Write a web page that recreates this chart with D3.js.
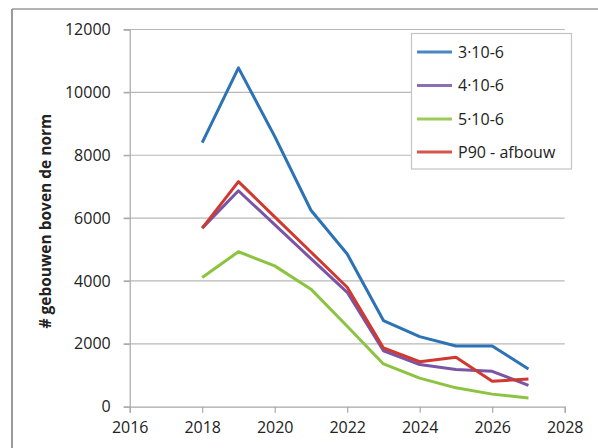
<!DOCTYPE html>
<html>
<head>
<meta charset="utf-8">
<script src="https://cdn.jsdelivr.net/npm/d3@7"></script>
<style>
  html, body { margin: 0; padding: 0; background: #fff; }
  svg { display: block; }
  text { font-family: "Open Sans", "Liberation Sans", sans-serif; fill: #222; }
</style>
</head>
<body>
<svg id="chart" width="598" height="448"></svg>
<script>
// ---- data ----
const years = [2018, 2019, 2020, 2021, 2022, 2023, 2024, 2025, 2026, 2027];
const seriesNames = ["3·10-6", "4·10-6", "5·10-6", "P90 - afbouw"];
const values3 = [8400, 10780, 8600, 6250, 4860, 2740, 2230, 1930, 1930, 1200];
const values4 = [5680, 6870, 5790, 4710, 3640, 1780, 1340, 1180, 1125, 680];
const values5 = [4110, 4930, 4480, 3740, 2560, 1360, 910, 600, 400, 275];
const valuesP90 = [5680, 7160, 6040, 4920, 3800, 1870, 1430, 1570, 810, 880];
const colors = ["#2b72b6", "#7a55a6", "#8cc33f", "#d0392f"];
const xTicks = [2016, 2018, 2020, 2022, 2024, 2026, 2028];
const yTicks = [0, 2000, 4000, 6000, 8000, 10000, 12000];
const yTitle = "# gebouwen boven de norm";

const allSeries = [values3, values4, values5, valuesP90].map((v, i) => ({
  name: seriesNames[i], color: colors[i],
  points: years.map((y, j) => ({ x: y, y: v[j] }))
}));

const svg = d3.select("#chart");

// outer frame
svg.append("line").attr("x1", 12).attr("x2", 598).attr("y1", 9).attr("y2", 9)
  .attr("stroke", "#9a9a9a").attr("stroke-width", 1.5);
svg.append("line").attr("x1", 12).attr("x2", 12).attr("y1", 9).attr("y2", 448)
  .attr("stroke", "#9a9a9a").attr("stroke-width", 2);

const x = d3.scaleLinear().domain([2016, 2028]).range([129.7, 564.7]);
const y = d3.scaleLinear().domain([0, 12000]).range([406.7, 29.5]);

// gridlines
svg.append("g").selectAll("line").data(yTicks.filter(d => d > 0)).join("line")
  .attr("x1", x(2016) - 6).attr("x2", x(2028))
  .attr("y1", d => y(d)).attr("y2", d => y(d))
  .attr("stroke", "#b8b8b8").attr("stroke-width", 1.2);

// y axis
const yAxis = svg.append("g").attr("transform", `translate(${x(2016)},0)`)
  .call(d3.axisLeft(y).tickValues(yTicks).tickSize(6).tickPadding(13).tickFormat(d3.format("d")));
yAxis.select(".domain").attr("stroke", "#a8a8a8").attr("stroke-width", 1.2);
yAxis.selectAll(".tick line").attr("stroke", "#a8a8a8").attr("stroke-width", 1.2);
yAxis.selectAll("text").attr("font-size", 16).attr("fill", "#222")
  .attr("font-family", "'Open Sans', sans-serif");

// x axis
const xAxis = svg.append("g").attr("transform", `translate(0,${y(0)})`)
  .call(d3.axisBottom(x).tickValues(xTicks).tickSize(6).tickPadding(9).tickFormat(d3.format("d")));
xAxis.select(".domain").attr("stroke", "#a8a8a8").attr("stroke-width", 1.2);
xAxis.selectAll(".tick line").attr("stroke", "#a8a8a8").attr("stroke-width", 1.2);
xAxis.selectAll("text").attr("font-size", 16).attr("fill", "#222")
  .attr("font-family", "'Open Sans', sans-serif");

// y title
svg.append("text")
  .attr("transform", `translate(51,${(y(0) + y(12000)) / 2 + 3}) rotate(-90)`)
  .attr("text-anchor", "middle")
  .attr("font-size", 15.5).attr("font-weight", "bold")
  .attr("font-family", "'Liberation Sans', sans-serif")
  .text(yTitle);

// lines
const line = d3.line().x(d => x(d.x)).y(d => y(d.y));
svg.append("g").selectAll("path").data(allSeries).join("path")
  .attr("d", d => line(d.points))
  .attr("fill", "none").attr("stroke", d => d.color)
  .attr("stroke-width", 3).attr("stroke-linejoin", "round");

// legend
const lg = svg.append("g");
lg.append("rect").attr("x", 411.5).attr("y", 33.5).attr("width", 160).attr("height", 135.5)
  .attr("fill", "#fff").attr("stroke", "#c4c4c4").attr("stroke-width", 1.2);
const rowsY = [52, 85.5, 119, 152];
const items = lg.selectAll("g.item").data(allSeries).join("g").attr("class", "item")
  .attr("transform", (d, i) => `translate(0,${rowsY[i]})`);
items.append("line").attr("x1", 417).attr("x2", 452).attr("y1", 0).attr("y2", 0)
  .attr("stroke", d => d.color).attr("stroke-width", 3).attr("opacity", 0.85);
items.append("text").attr("x", 458).attr("y", 0).attr("dy", "0.35em")
  .attr("font-size", 16).text(d => d.name);
</script>
</body>
</html>
